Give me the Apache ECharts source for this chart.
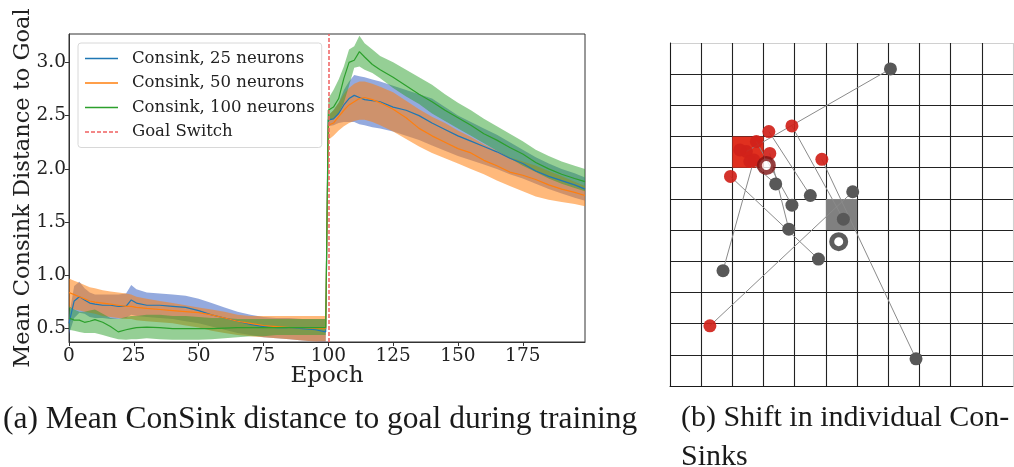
<!DOCTYPE html>
<html>
<head>
<meta charset="utf-8">
<script src="https://cdn.jsdelivr.net/npm/echarts@6/dist/echarts.min.js"></script>
<style>
  html, body { margin: 0; padding: 0; background: #fff; }
  #chart { width: 1014px; height: 467px; }
</style>
</head>
<body>
<div id="chart"></div>
<script>
// ---- (a) mean ConSink distance to goal ----
const epochs = [0, 2, 4, 6, 8, 10, 13, 16, 19, 22, 24, 26, 30, 35, 40, 45, 50, 55, 60, 65, 70, 75, 80, 85, 90, 95, 99,
	100, 102, 104, 106, 108, 110, 112, 114, 117, 120, 125, 130, 135, 140, 145, 150, 155, 160, 165, 170, 175, 180, 185, 190, 195, 199];

const mean25 = [0.55, 0.76, 0.80, 0.77, 0.74, 0.73, 0.72, 0.72, 0.71, 0.71, 0.77, 0.74, 0.72, 0.72, 0.71, 0.70, 0.67, 0.63, 0.60, 0.57, 0.54, 0.52, 0.51, 0.51, 0.50, 0.49, 0.47,
	2.46, 2.47, 2.52, 2.60, 2.66, 2.69, 2.67, 2.65, 2.64, 2.63, 2.58, 2.55, 2.50, 2.43, 2.37, 2.31, 2.26, 2.21, 2.16, 2.10, 2.05, 1.98, 1.93, 1.89, 1.85, 1.81];
const lo25 = [0.45, 0.60, 0.65, 0.64, 0.61, 0.60, 0.60, 0.59, 0.59, 0.60, 0.63, 0.62, 0.61, 0.60, 0.59, 0.57, 0.55, 0.52, 0.49, 0.46, 0.44, 0.42, 0.41, 0.40, 0.39, 0.38, 0.37,
	2.40, 2.41, 2.43, 2.44, 2.44, 2.44, 2.42, 2.41, 2.39, 2.38, 2.35, 2.31, 2.27, 2.22, 2.17, 2.12, 2.08, 2.04, 2.00, 1.95, 1.91, 1.86, 1.81, 1.77, 1.73, 1.70];
const hi25 = [0.62, 0.90, 0.94, 0.88, 0.84, 0.82, 0.82, 0.82, 0.82, 0.83, 0.91, 0.87, 0.84, 0.83, 0.82, 0.81, 0.78, 0.74, 0.70, 0.66, 0.63, 0.61, 0.60, 0.60, 0.59, 0.59, 0.59,
	2.50, 2.55, 2.62, 2.74, 2.82, 2.88, 2.87, 2.86, 2.84, 2.82, 2.78, 2.74, 2.70, 2.66, 2.58, 2.50, 2.44, 2.38, 2.32, 2.25, 2.18, 2.11, 2.05, 2.00, 1.96, 1.92];

const mean50 = [0.84, 0.82, 0.80, 0.78, 0.76, 0.75, 0.74, 0.73, 0.72, 0.71, 0.71, 0.70, 0.69, 0.68, 0.67, 0.66, 0.65, 0.63, 0.60, 0.57, 0.55, 0.53, 0.52, 0.51, 0.51, 0.505, 0.50,
	2.41, 2.43, 2.49, 2.55, 2.60, 2.63, 2.66, 2.67, 2.65, 2.62, 2.56, 2.48, 2.38, 2.31, 2.25, 2.19, 2.15, 2.08, 2.03, 1.97, 1.94, 1.90, 1.85, 1.81, 1.78, 1.75];
const lo50 = [0.70, 0.68, 0.67, 0.66, 0.65, 0.64, 0.62, 0.61, 0.60, 0.59, 0.59, 0.58, 0.57, 0.56, 0.55, 0.53, 0.51, 0.48, 0.46, 0.44, 0.43, 0.42, 0.41, 0.40, 0.39, 0.38, 0.38,
	2.27, 2.31, 2.36, 2.40, 2.43, 2.45, 2.46, 2.46, 2.44, 2.41, 2.35, 2.28, 2.21, 2.15, 2.10, 2.05, 2.00, 1.95, 1.89, 1.84, 1.79, 1.74, 1.71, 1.69, 1.67, 1.65];
const hi50 = [0.97, 0.95, 0.93, 0.91, 0.89, 0.88, 0.86, 0.85, 0.84, 0.83, 0.82, 0.80, 0.78, 0.76, 0.74, 0.72, 0.70, 0.68, 0.66, 0.63, 0.62, 0.62, 0.62, 0.62, 0.62, 0.62, 0.62,
	2.50, 2.55, 2.62, 2.70, 2.76, 2.80, 2.82, 2.82, 2.80, 2.77, 2.72, 2.64, 2.56, 2.49, 2.43, 2.36, 2.30, 2.23, 2.17, 2.11, 2.07, 2.03, 1.98, 1.93, 1.88, 1.84];

const mean100 = [0.60, 0.58, 0.58, 0.56, 0.57, 0.585, 0.56, 0.52, 0.47, 0.49, 0.50, 0.51, 0.515, 0.51, 0.50, 0.50, 0.50, 0.50, 0.505, 0.51, 0.51, 0.51, 0.51, 0.51, 0.51, 0.51, 0.51,
	2.55, 2.58, 2.66, 2.85, 3.00, 3.02, 3.10, 3.05, 2.98, 2.93, 2.86, 2.78, 2.70, 2.63, 2.55, 2.48, 2.41, 2.33, 2.27, 2.20, 2.14, 2.06, 2.00, 1.95, 1.91, 1.88];
const lo100 = [0.49, 0.48, 0.47, 0.46, 0.46, 0.46, 0.44, 0.42, 0.40, 0.395, 0.40, 0.40, 0.41, 0.40, 0.395, 0.395, 0.395, 0.40, 0.41, 0.42, 0.43, 0.43, 0.44, 0.44, 0.44, 0.44, 0.44,
	2.45, 2.47, 2.52, 2.62, 2.78, 2.95, 2.96, 2.93, 2.90, 2.85, 2.76, 2.68, 2.61, 2.52, 2.45, 2.38, 2.31, 2.24, 2.17, 2.10, 2.03, 1.97, 1.91, 1.86, 1.82, 1.79];
const hi100 = [0.71, 0.68, 0.66, 0.66, 0.67, 0.68, 0.64, 0.60, 0.59, 0.61, 0.62, 0.62, 0.63, 0.63, 0.62, 0.62, 0.61, 0.60, 0.60, 0.59, 0.59, 0.59, 0.59, 0.59, 0.59, 0.59, 0.59,
	2.66, 2.74, 2.84, 2.96, 3.12, 3.15, 3.25, 3.18, 3.12, 3.06, 3.00, 2.93, 2.86, 2.79, 2.70, 2.62, 2.55, 2.47, 2.40, 2.33, 2.26, 2.18, 2.12, 2.07, 2.03, 2.00];

const goalSwitchEpoch = 100;
const xTicks = [0, 25, 50, 75, 100, 125, 150, 175];
const yTicks = [0.5, 1.0, 1.5, 2.0, 2.5, 3.0];

// ---- (b) shift in individual ConSinks (grid cells, y counted from top) ----
const redPts = [[3.17, 2.84], [3.91, 2.66], [4.87, 3.73], [1.94, 4.28], [3.20, 3.54], [1.28, 9.07],
	[2.45, 3.48], [2.77, 3.16], [2.69, 3.75], [2.56, 3.80], [2.24, 3.43]];
const grayPts = [[4.50, 4.89], [5.56, 5.65], [7.89, 10.13], [4.76, 6.93], [3.81, 5.97], [5.86, 4.77],
	[7.07, 0.83], [3.91, 5.20], [1.70, 7.30], [3.39, 4.52]];
const oldGoalCell = [2, 3];
const newGoalCell = [5, 5];
const redRing = [3.09, 3.93];
const grayRing = [5.41, 6.37];
const gridCells = 11;

const SERIF = 'DejaVu Serif';
const CAPTION = 'Liberation Serif';

function pairs(vals) { return epochs.map((e, i) => [e, vals[i]]); }

// shaded std band drawn as one polygon through the axis scales
function band(lo, hi, color) {
	return {
		type: 'custom', xAxisIndex: 0, yAxisIndex: 0, clip: true, silent: true, z: 1,
		data: [[epochs[0], lo[0]]],
		renderItem: function(params, api) {
			const top = epochs.map((e, i) => api.coord([e, hi[i]]));
			const bottom = epochs.map((e, i) => api.coord([e, lo[i]])).reverse();
			return { type: 'polygon', shape: { points: top.concat(bottom) }, style: { fill: color } };
		}
	};
}

function meanLine(name, vals, color) {
	return { name: name, type: 'line', data: pairs(vals), symbol: 'none', showSymbol: false, z: 3,
		lineStyle: { color: color, width: 1.2 }, itemStyle: { color: color } };
}

const solidIcon = 'path://M0,0H33V1.4H0Z';
const dashIcon = 'path://M0,0H4V1.4H0Z M6,0H10V1.4H6Z M12,0H16V1.4H12Z M18,0H22V1.4H18Z M24,0H28V1.4H24Z M30,0H33V1.4H30Z';

const chart = echarts.init(document.getElementById('chart'), null, { renderer: 'canvas' });

const lineSegs = grayPts.map((g, i) => ({ coords: [g, redPts[i]] }));

chart.setOption({
	animation: false,
	title: [
		{ text: '(a) Mean ConSink distance to goal during training', left: 3, top: 404, padding: 0,
		  textStyle: { fontFamily: CAPTION, fontSize: 31.5, fontWeight: 'normal', color: '#1a1a1a' } },
		{ text: '(b) Shift in individual Con-\nSinks', left: 681, top: 399, padding: 0,
		  textStyle: { fontFamily: CAPTION, fontSize: 30, fontWeight: 'normal', color: '#1a1a1a', lineHeight: 39 } }
	],
	legend: {
		data: [
			{ name: 'Consink, 25 neurons', icon: solidIcon },
			{ name: 'Consink, 50 neurons', icon: solidIcon },
			{ name: 'Consink, 100 neurons', icon: solidIcon },
			{ name: 'Goal Switch', icon: dashIcon }
		],
		orient: 'vertical', left: 78, top: 43,
		padding: [7, 7, 7, 7],
		itemWidth: 33, itemHeight: 1.4, itemGap: 7.5,
		backgroundColor: 'rgba(255,255,255,0.8)',
		borderColor: '#d8d8d8', borderWidth: 1, borderRadius: 3,
		textStyle: { fontFamily: SERIF, fontSize: 16.5, color: '#222', padding: [0, 0, 0, 9] }
	},
	grid: [
		{ left: 69, top: 34, width: 516, height: 308, show: true, borderColor: '#333', borderWidth: 1,
		  containLabel: false, outerBoundsMode: 'none' },
		{ left: 670, top: 43, width: 343, height: 343, containLabel: false, outerBoundsMode: 'none' }
	],
	xAxis: [
		{ gridIndex: 0, type: 'value', min: 0, max: 199,
		  name: 'Epoch', nameLocation: 'middle', nameGap: 23, nameMoveOverlap: false,
		  nameTextStyle: { fontFamily: SERIF, fontSize: 23, color: '#222' },
		  axisLine: { lineStyle: { color: '#333', width: 1 } },
		  axisTick: { show: true, length: 4, lineStyle: { color: '#333' }, customValues: xTicks },
		  axisLabel: { fontFamily: SERIF, fontSize: 18.5, color: '#222', margin: 5, customValues: xTicks },
		  splitLine: { show: false } },
		{ gridIndex: 1, type: 'value', min: 0, max: gridCells, interval: 1,
		  axisLine: { show: true, onZero: false, lineStyle: { color: '#1a1a1a', width: 1 } },
		  axisTick: { show: false }, axisLabel: { show: false },
		  splitLine: { show: true, lineStyle: { color: ['#222', '#222', '#222', '#222', '#222', '#222',
		    '#222', '#222', '#222', '#222', '#222', '#d0d0d0'], width: 1.1 } } }
	],
	yAxis: [
		{ gridIndex: 0, type: 'value', min: 0.375, max: 3.266,
		  name: 'Mean Consink Distance to Goal', nameLocation: 'middle', nameGap: 34, nameMoveOverlap: false,
		  nameTextStyle: { fontFamily: SERIF, fontSize: 22.5, color: '#222' },
		  axisLine: { show: true, lineStyle: { color: '#333', width: 1 } },
		  axisTick: { show: true, length: 4, lineStyle: { color: '#333' }, customValues: yTicks },
		  axisLabel: { fontFamily: SERIF, fontSize: 18.5, color: '#222', margin: 3, customValues: yTicks,
		    formatter: v => v.toFixed(1) },
		  splitLine: { show: false } },
		{ gridIndex: 1, type: 'value', min: 0, max: gridCells, interval: 1, inverse: true,
		  axisLine: { show: true, onZero: false, lineStyle: { color: '#1a1a1a', width: 1 } },
		  axisTick: { show: false }, axisLabel: { show: false },
		  splitLine: { show: true, lineStyle: { color: ['#d0d0d0', '#222', '#222', '#222', '#222', '#222',
		    '#222', '#222', '#222', '#222', '#222', '#222'], width: 1.1 } } }
	],
	series: [
		band(lo25, hi25, 'rgba(76,114,200,0.6)'),
		band(lo50, hi50, 'rgba(255,127,14,0.55)'),
		band(lo100, hi100, 'rgba(44,160,44,0.5)'),
		meanLine('Consink, 25 neurons', mean25, '#1f77b4'),
		meanLine('Consink, 50 neurons', mean50, '#ff7f0e'),
		meanLine('Consink, 100 neurons', mean100, '#2ca02c'),
		{ name: 'Goal Switch', type: 'line', data: [], symbol: 'none', z: 4,
		  lineStyle: { color: '#f06060', type: [4, 2], width: 1.5 }, itemStyle: { color: '#f06060' },
		  markLine: { silent: true, symbol: ['none', 'none'], label: { show: false },
		    lineStyle: { color: '#f06060', type: [4, 2], width: 1.5 },
		    data: [{ xAxis: goalSwitchEpoch }] } },

		// (b) goal cells
		{ type: 'custom', xAxisIndex: 1, yAxisIndex: 1, z: 2, silent: true,
		  data: [[oldGoalCell[0], oldGoalCell[1], 0], [newGoalCell[0], newGoalCell[1], 1]],
		  renderItem: function(params, api) {
			const x = api.value(0), y = api.value(1);
			const p0 = api.coord([x, y]);
			const p1 = api.coord([x + 1, y + 1]);
			return { type: 'rect',
				shape: { x: Math.min(p0[0], p1[0]), y: Math.min(p0[1], p1[1]),
					width: Math.abs(p1[0] - p0[0]), height: Math.abs(p1[1] - p0[1]) },
				style: { fill: api.value(2) === 0 ? '#e0301f' : '#808080' } };
		  } },
		{ type: 'lines', coordinateSystem: 'cartesian2d', xAxisIndex: 1, yAxisIndex: 1, z: 3, silent: true,
		  lineStyle: { color: '#8a8a8a', width: 1, opacity: 1 }, data: lineSegs },
		{ type: 'scatter', xAxisIndex: 1, yAxisIndex: 1, z: 4, silent: true, symbolSize: 13,
		  itemStyle: { color: '#585858', opacity: 1 }, data: grayPts },
		{ type: 'scatter', xAxisIndex: 1, yAxisIndex: 1, z: 5, silent: true, symbolSize: 13,
		  itemStyle: { color: '#d0221a', opacity: 0.92 }, data: redPts },
		{ type: 'scatter', xAxisIndex: 1, yAxisIndex: 1, z: 6, silent: true, symbolSize: 14,
		  itemStyle: { color: '#ffffff', borderColor: '#7e1212', borderWidth: 5 }, data: [redRing] },
		{ type: 'scatter', xAxisIndex: 1, yAxisIndex: 1, z: 6, silent: true, symbolSize: 14,
		  itemStyle: { color: '#ffffff', borderColor: '#333333', borderWidth: 5 }, data: [grayRing] }
	]
});
</script>
</body>
</html>
